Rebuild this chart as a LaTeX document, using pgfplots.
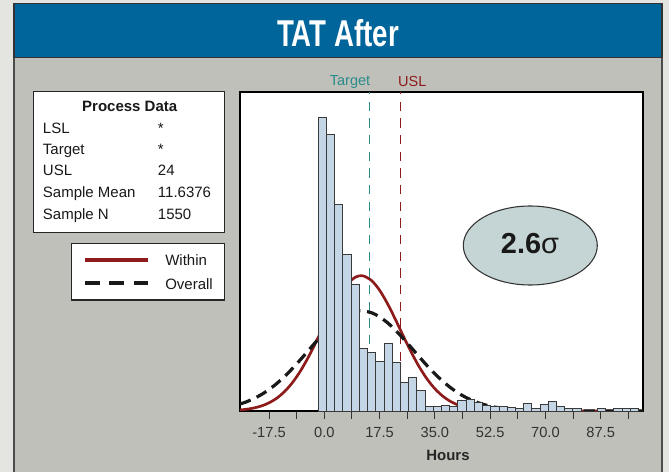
\documentclass[border=0pt]{standalone}
\usepackage{pgfplots}
\pgfplotsset{compat=1.18}
\usepackage{fontspec}
\setmainfont{Liberation Sans}
\definecolor{band}{HTML}{00659A}
\definecolor{panel}{HTML}{C0C0BA}
\definecolor{outer}{HTML}{E4E4E0}
\definecolor{barfill}{HTML}{C4D5E5}
\definecolor{baredge}{HTML}{3A3A3A}
\definecolor{within}{HTML}{8E1B1B}
\definecolor{tgt}{HTML}{2A8C8C}
\definecolor{usl}{HTML}{8E1B1B}
\definecolor{ell}{HTML}{C5D5D5}
\begin{document}
\begin{tikzpicture}[x=0.75pt,y=0.75pt]
% background and panel
\fill[outer] (0,0) rectangle (669,472);
\fill[panel] (14,0) rectangle (662,415);
\draw[black!70, line width=0.8pt] (14,0) -- (14,415) (662,0) -- (662,415);
\fill[band] (14,414.4) rectangle (662,468.2);
\draw[black!80, line width=0.8pt] (14,414.4) rectangle (662,468.2);
\node[text=white] at (338,438.5) {\fontsize{28}{30}\selectfont\bfseries\scalebox{0.74}[1]{TAT After}};

\begin{axis}[
  at={(180pt,45.75pt)}, anchor=south west, scale only axis,
  width=302.25pt, height=239.25pt,
  xmin=-26.7, xmax=100.9, ymin=0, ymax=319,
  axis background/.style={fill=white},
  axis line style={line width=0.8pt, black},
  ytick=\empty,
  xtick={-17.5,0,17.5,35,52.5,70,87.5},
  minor xtick={-8.75,8.75,26.25,43.75,61.25,78.75,96.25},
  xtick pos=bottom,
  tick align=outside,
  major tick length=5.8pt, minor tick length=5.8pt,
  tick style={black!80, line width=0.8pt},
  /pgf/number format/assume math mode=true,
  xticklabel style={font=\fontsize{11}{13}\selectfont, text=black!80, yshift=-3pt,
    /pgf/number format/.cd, fixed, fixed zerofill, precision=1},
]
% specification lines
\addplot[tgt, line width=0.9pt, dash pattern=on 7pt off 5.5pt] coordinates {(14.4,0) (14.4,319)};
\addplot[usl, line width=0.9pt, dash pattern=on 7pt off 5.5pt] coordinates {(24,0) (24,319)};
% within curve
\addplot[within, line width=2pt, smooth] coordinates {
(-26.7,1.05) (-25,1.60) (-22.5,2.88) (-20,4.95) (-17.5,8.18) (-15,12.96) (-12.5,19.72)
(-10,28.79) (-7.5,40.32) (-5,54.19) (-2.5,69.88) (0,86.47) (2.5,102.67) (5,116.95)
(7.5,127.85) (10,134.10) (11.64,135.3) (12.5,134.97) (15,130.35) (17.5,120.78)
(20,107.39) (22.5,91.62) (25,75.01) (27.5,58.92) (30,44.42) (32.5,32.12) (35,22.30)
(37.5,14.85) (40,9.48) (42.5,5.81) (45,3.42) (47.5,1.93) (50,1.05) (52.5,0.54)
(55,0.27) (57.5,0.13) (60,0.06) (70,0) (100.9,0)};
% overall curve
\addplot[black!90, line width=2.4pt, dash pattern=on 8.5pt off 5pt, smooth] coordinates {
(-26.7,6.96) (-25,8.77) (-22.5,12.09) (-20,16.29) (-17.5,21.47) (-15,27.64) (-12.5,34.81)
(-10,42.83) (-7.5,51.54) (-5,60.63) (-2.5,69.72) (0,78.36) (2.5,86.10) (5,92.49)
(7.5,97.13) (10,99.71) (11.64,100.2) (12.5,100.07) (15,98.17) (17.5,94.15) (20,88.27)
(22.5,80.89) (25,72.47) (27.5,63.49) (30,54.35) (32.5,45.49) (35,37.22) (37.5,29.77)
(40,23.29) (42.5,17.80) (45,13.31) (47.5,9.72) (50,6.94) (52.5,4.85) (55,3.31)
(57.5,2.21) (60,1.44) (65,0.57) (70,0.21) (80,0.02) (100.9,0)};
% histogram
\addplot[ybar interval, fill=barfill, draw=baredge, line width=0.7pt] coordinates {
(-1.9,293.7) (0.7,276.7) (3.3,206.3) (5.9,157) (8.5,126.5) (11.1,62.7) (13.7,58.7)
(16.3,49.3) (18.9,67.3) (21.5,49) (24.1,29) (26.7,34) (29.3,20.5) (31.9,4.5)
(34.5,4.5) (37.1,5.5) (39.7,5) (42.3,11) (44.9,11.5) (47.5,8.5) (50.1,5.5)
(52.7,5) (55.3,5) (57.9,4) (60.5,2.5) (63.1,7.5) (65.7,2.5) (68.3,7) (70.9,10)
(73.5,4.5) (76.1,2.5) (78.7,2.5) (81.3,0) (83.9,0) (86.5,2.5) (89.1,0) (91.7,2.5)
(94.3,2.5) (96.9,2.5) (99.5,0)};
\end{axis}

% spec labels
\node[text=tgt, font=\fontsize{10.9}{12}\selectfont] at (350,390.3) {Target};
\node[text=usl, font=\fontsize{10.9}{12}\selectfont] at (412.3,390.3) {USL};
% x axis title
\node[font=\fontsize{11.2}{13}\selectfont\bfseries, text=black!85] at (448,16.5) {Hours};

% process data box
\draw[fill=white, draw=black!85, line width=0.8pt] (33.3,380.3) rectangle (224.3,239.7);
\begin{scope}[every node/.style={font=\fontsize{11.25}{13}\selectfont, text=black!90, inner sep=0pt}]
\node[anchor=base, font=\fontsize{11.25}{13}\selectfont\bfseries] at (129.7,360.3) {Process Data};
\node[anchor=base west] at (42.7,338.7) {LSL};
\node[anchor=base west] at (157.7,338.7) {*};
\node[anchor=base west] at (42.7,317.3) {Target};
\node[anchor=base west] at (157.7,317.3) {*};
\node[anchor=base west] at (42.7,296) {USL};
\node[anchor=base west] at (157.7,296) {24};
\node[anchor=base west] at (42.7,274.5) {Sample Mean};
\node[anchor=base west] at (157.7,274.5) {11.6376};
\node[anchor=base west] at (42.7,252) {Sample N};
\node[anchor=base west] at (157.7,252) {1550};
\end{scope}

% legend box
\draw[fill=white, draw=black!85, line width=0.8pt] (71.7,228.7) rectangle (224.3,172);
\draw[within, line width=3pt] (85,212) -- (148.3,212);
\draw[black!90, line width=3pt, dash pattern=on 11.25pt off 7pt] (85,188.7) -- (148.3,188.7);
\node[anchor=base west, inner sep=0pt, font=\fontsize{11.25}{13}\selectfont, text=black!90] at (165,206.3) {Within};
\node[anchor=base west, inner sep=0pt, font=\fontsize{11.25}{13}\selectfont, text=black!90] at (165,182.7) {Overall};

% sigma ellipse
\draw[fill=ell, draw=black!80, line width=0.8pt] (530.3,226.5) ellipse [x radius=67, y radius=39.5];
\node[anchor=base, inner sep=0pt, text=black!90] at (530,218) {\fontsize{21.7}{24}\selectfont\textbf{2.6}σ};
\end{tikzpicture}
\end{document}
